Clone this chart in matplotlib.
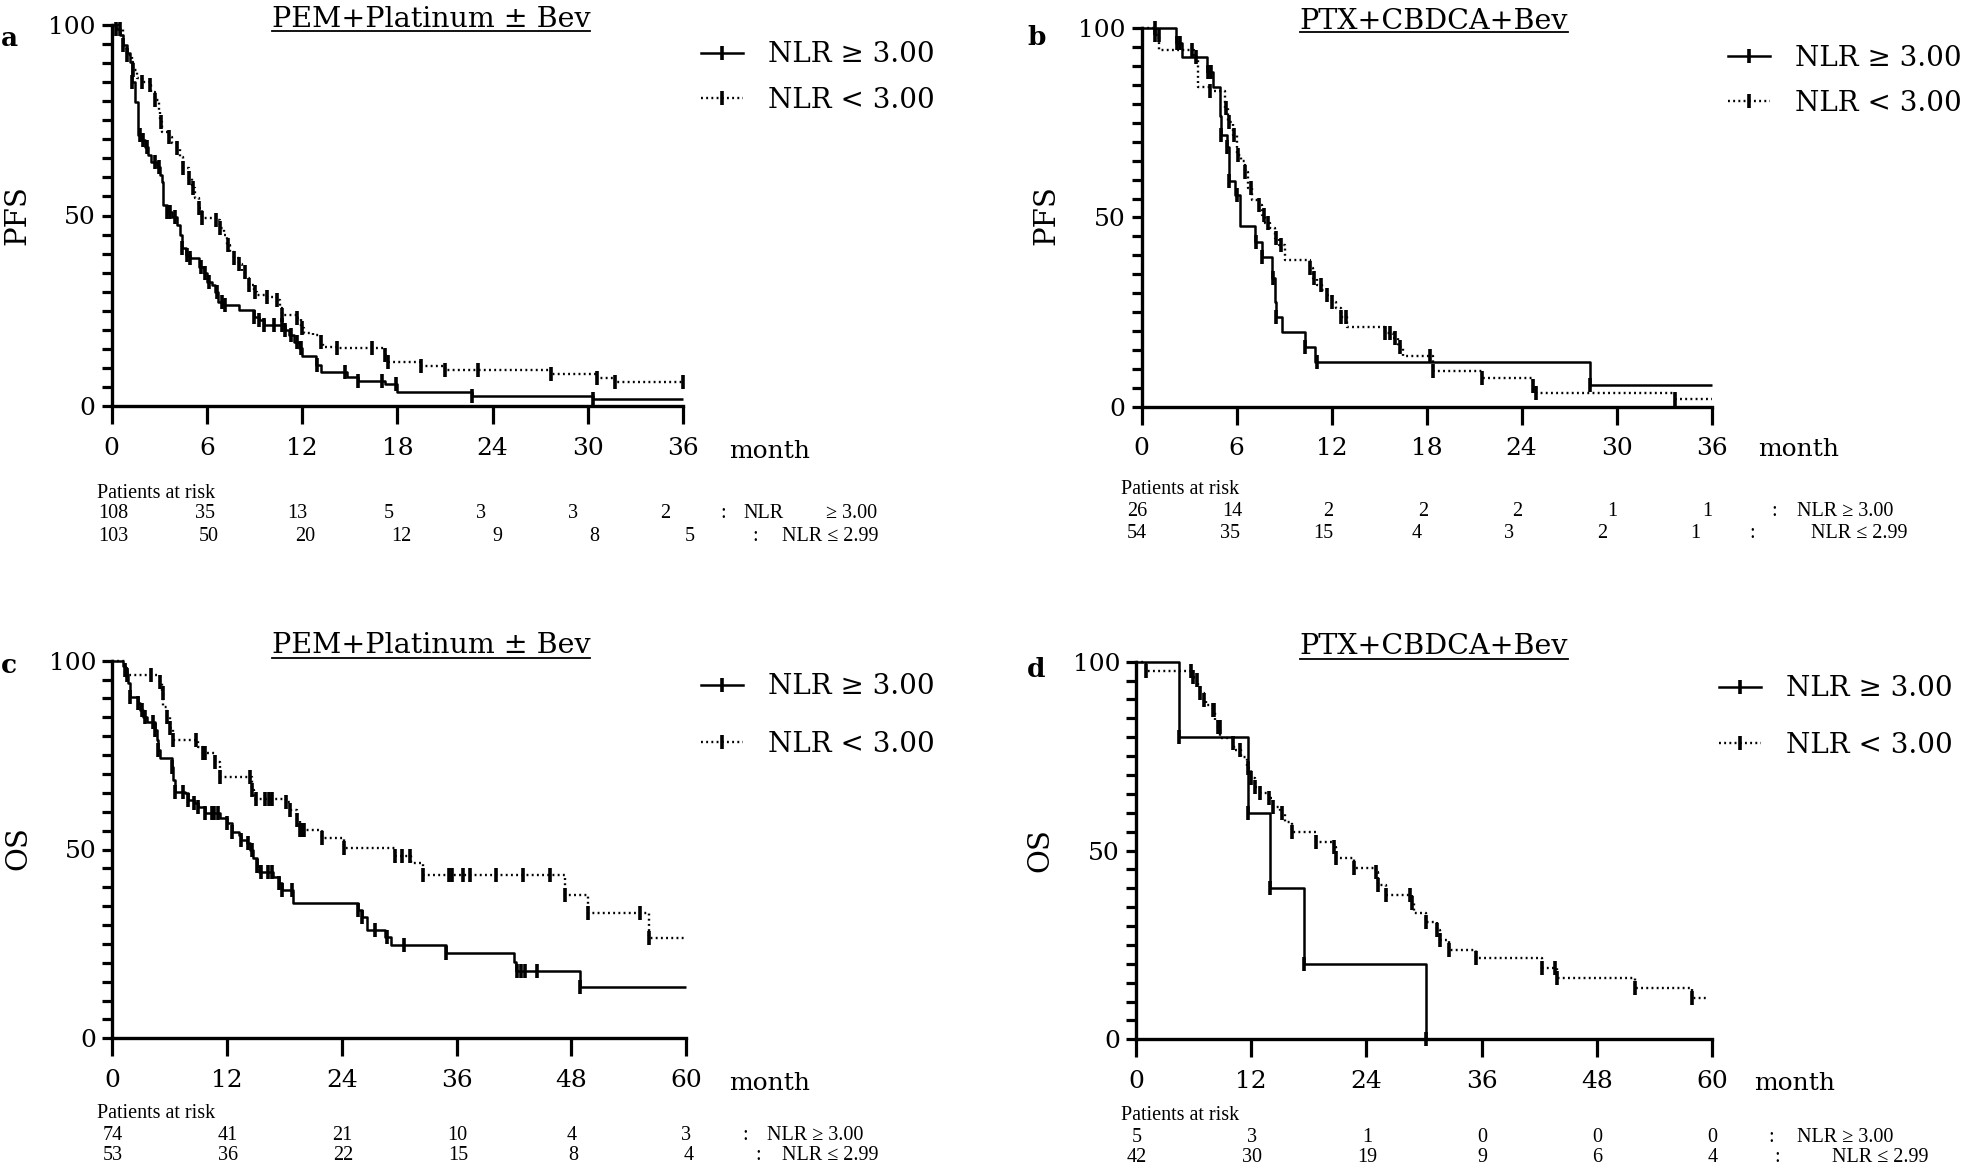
import matplotlib
matplotlib.use("Agg")
import matplotlib.pyplot as plt
import matplotlib.transforms as mtransforms
from matplotlib.lines import Line2D
import numpy as np

# ------------------------------------------------------------------ data
# Panel a : PFS, PEM+Platinum ± Bev
a_hi_t = [0.3, 0.5, 0.74, 0.95, 1.16, 1.26, 1.47, 1.68, 1.89, 2.1, 2.3, 2.5, 2.84, 3.05, 3.16, 3.26, 3.47,
          3.79, 4.1, 4.3, 4.4, 4.7, 4.95, 5.47, 5.8, 6.0, 6.3, 6.5, 6.7, 7.05, 8.0, 8.95, 9.26, 9.58, 10.9,
          11.2, 11.5, 11.8, 12.0, 12.9, 13.2, 14.8, 15.5, 17.2, 18.0, 22.7, 30.3]
a_hi_s = [99, 97.4, 94.7, 92.6, 90.4, 85.1, 79.9, 71.1, 69.8, 68.1, 65.9, 64.1, 62.8, 60.6, 58.9, 52.8, 51.0,
          49.7, 47.5, 44.9, 41.4, 39.6, 38.8, 36.6, 34.8, 32.6, 31.8, 30.0, 27.4, 26.5, 25.2, 23.4, 22.6, 21.3,
          19.9, 18.6, 16.9, 15.1, 13.2, 10.8, 8.8, 7.7, 6.6, 5.7, 3.75, 2.7, 1.8]
a_hi_end = 36
a_hi_cens = [0.3, 0.74, 1.26, 1.79, 2.0, 2.2, 2.74, 2.95, 3.5, 3.7, 4.0, 4.42, 4.74, 4.95, 5.6, 5.9, 6.1, 6.63,
             6.95, 7.16, 8.95, 9.26, 9.58, 10.2, 10.7, 10.9, 11.3, 11.7, 11.9, 12.95, 14.7, 15.5, 17.05, 17.9,
             22.7, 30.3]
a_lo_t = [0.5, 0.74, 0.95, 1.26, 1.37, 1.58, 1.89, 2.4, 2.5, 2.7, 2.95, 3.05, 3.16, 3.58, 3.79, 4.1, 4.3, 4.5,
          4.84, 5.05, 5.26, 5.47, 5.68, 6.6, 6.84, 7.05, 7.26, 7.47, 7.68, 8.0, 8.2, 8.42, 8.63, 8.95, 9.16,
          9.8, 10.4, 10.6, 10.7, 11.7, 11.9, 12.1, 12.7, 13.2, 13.3, 14.2, 17.2, 17.4, 19.5, 21.0, 27.7, 30.6,
          31.7]
a_lo_s = [99, 93.9, 92, 90.4, 88.2, 86, 85.1, 84.3, 82.5, 80.3, 77.3, 74.6, 72, 70.7, 68.9, 67.6, 65.4, 62.4,
          59.8, 57.1, 54.5, 51.9, 49.3, 48.8, 46.6, 44.9, 42.3, 40.5, 38.8, 37.4, 35.3, 33.5, 31.8, 30.0, 29.1,
          28.7, 27.8, 25.6, 23.9, 23.0, 20.4, 19.1, 18.6, 16.9, 15.6, 15.1, 13.4, 11.5, 10.5, 9.45, 8.4, 7.3,
          6.2]
a_lo_end = 36
a_lo_cens = [0.5, 0.95, 1.37, 1.9, 2.4, 2.7, 3.1, 3.6, 4.1, 4.5, 4.85, 5.1, 5.5, 5.7, 6.6, 6.85, 7.3, 7.7, 8.0,
             8.4, 8.65, 9.0, 9.8, 10.4, 10.7, 11.7, 12.0, 13.2, 14.2, 16.4, 17.2, 17.4, 19.5, 21.0, 23.1, 27.7,
             30.6, 31.7, 36.0]
a_risk_times = [0, 6, 12, 18, 24, 30, 36]
a_risk_hi = [108, 35, 13, 5, 3, 3, 2]
a_risk_lo = [103, 50, 20, 12, 9, 8, 5]

# Panel b : PFS, PTX+CBDCA+Bev
b_hi_t = [2.17, 2.53, 4.15, 4.5, 4.95, 5.0, 5.37, 5.5, 5.9, 6.2, 7.16, 7.6, 8.2, 8.4, 8.5, 8.84, 10.3, 10.95, 28.3]
b_hi_s = [96.2, 92.3, 88.5, 84.6, 76.9, 71.8, 68.7, 59.7, 56.0, 47.8, 43.6, 39.6, 33.9, 27.8, 23.8, 19.8, 15.9,
          11.9, 5.7]
b_hi_end = 36
b_hi_cens = [0.84, 2.2, 2.4, 4.2, 4.4, 5.0, 5.4, 5.5, 6.0, 7.2, 7.6, 8.3, 8.5, 10.3, 11.05, 28.3]
b_lo_t = [0.84, 1.12, 3.3, 3.58, 4.3, 5.26, 5.47, 5.79, 6.0, 6.3, 6.5, 6.7, 6.95, 7.4, 7.6, 7.8, 8.1, 8.4, 8.7,
          9.05, 10.6, 10.8, 11.05, 11.4, 11.7, 12.0, 12.3, 12.6, 12.95, 15.4, 15.9, 16.2, 16.5, 18.4, 21.5,
          24.7, 24.9, 33.7]
b_lo_s = [98.1, 94.3, 92.5, 84.6, 83.3, 78.9, 75.3, 71.8, 66.5, 64.8, 62.1, 57.7, 54.6, 53.3, 50.7, 48.5, 47.1,
          44.5, 42.7, 38.8, 36.6, 33.9, 32.2, 30.8, 29.5, 27.8, 26.0, 23.8, 21.1, 19.4, 18.1, 15.9, 13.5, 9.5,
          7.5, 5.6, 3.7, 1.95]
b_lo_end = 36
b_lo_cens = [0.84, 1.1, 3.16, 3.4, 4.3, 5.3, 5.5, 5.8, 6.1, 6.5, 6.9, 7.4, 7.7, 8.0, 8.5, 8.8, 10.6, 10.9, 11.3,
             11.7, 12.0, 12.6, 12.9, 15.4, 15.7, 16.0, 16.3, 18.2, 18.4, 21.5, 24.7, 24.9, 33.7]
b_risk_times = [0, 6, 12, 18, 24, 30, 36]
b_risk_hi = [26, 14, 2, 2, 2, 1, 1]
b_risk_lo = [54, 35, 15, 4, 3, 2, 1]

# Panel c : OS, PEM+Platinum ± Bev
c_hi_t = [1.15, 1.33, 1.5, 1.67, 1.85, 2.72, 2.9, 3.24, 3.6, 4.46, 4.64, 4.8, 5.0, 6.2, 6.4, 6.56, 7.6, 7.95, 8.5,
          9.0, 9.7, 11.3, 12.0, 12.5, 13.2, 13.5, 14.1, 14.4, 14.75, 15.1, 15.3, 16.85, 17.4, 17.7, 18.9, 25.7,
          26.1, 26.6, 28.5, 29.1, 34.9, 42.0, 42.2, 48.9]
c_hi_s = [98.6, 97.6, 95.9, 94.0, 90.5, 88.7, 86.9, 85.2, 83.8, 81.6, 79.0, 76.3, 74.1, 71.9, 68.4, 65.3, 64.9,
          63.1, 62.2, 61.3, 59.6, 58.3, 56.9, 54.7, 53.8, 52.5, 51.6, 49.9, 47.7, 45.5, 44.1, 42.8, 41.0, 39.3,
          35.7, 34.0, 32.2, 28.7, 26.9, 24.7, 22.5, 20.3, 17.9, 13.5]
c_hi_end = 60
c_hi_cens = [1.33, 1.85, 2.72, 3.07, 3.42, 4.29, 4.46, 4.8, 6.2, 6.56, 7.4, 7.95, 8.5, 9.0, 9.7, 10.4, 10.6, 11.1,
             12.0, 12.5, 13.5, 14.2, 14.6, 15.1, 15.5, 16.3, 16.7, 17.4, 17.7, 18.8, 25.7, 26.1, 27.5, 28.7,
             30.5, 34.9, 42.3, 42.7, 43.2, 44.4, 48.9]
c_lo_t = [1.3, 1.5, 5.0, 5.2, 5.35, 5.7, 6.0, 6.4, 9.0, 9.5, 10.75, 11.3, 14.6, 14.8, 18.2, 18.6, 19.3, 19.6,
          21.9, 24.2, 29.6, 31.2, 32.5, 47.3, 49.8, 56.1]
c_lo_s = [98.1, 96.2, 94.4, 91.4, 87.8, 85.2, 82.1, 79.0, 77.2, 75.5, 73.3, 69.3, 65.8, 63.5, 62.7, 60.5, 57.8,
          55.2, 53.0, 50.3, 48.3, 46.5, 43.3, 38.0, 33.3, 26.6]
c_lo_end = 60
c_lo_cens = [1.5, 4.05, 5.0, 5.3, 5.7, 6.0, 6.4, 8.8, 9.5, 9.7, 10.75, 11.3, 14.4, 14.6, 15.0, 16.0, 16.4, 16.7,
             18.2, 18.6, 19.3, 19.6, 19.8, 20.0, 21.9, 24.2, 29.6, 30.3, 31.1, 32.5, 35.2, 35.5, 36.7, 37.4,
             40.1, 43.0, 45.8, 47.3, 49.8, 55.2, 56.1]
c_risk_times = [0, 12, 24, 36, 48, 60]
c_risk_hi = [74, 41, 21, 10, 4, 3]
c_risk_lo = [53, 36, 22, 15, 8, 4]

# Panel d : OS, PTX+CBDCA+Bev
d_hi_t = [4.5, 11.65, 14.0, 17.5, 30.2]
d_hi_s = [80, 60, 40, 20, 0]
d_hi_end = 30.2
d_hi_cens = [4.5, 11.65, 14.0, 17.5, 30.2]
d_lo_t = [1.0, 5.8, 6.0, 6.5, 6.7, 7.1, 7.3, 8.0, 8.2, 8.5, 8.8, 10.1, 10.25, 10.9, 11.6, 12.0, 12.35, 12.9, 13.9,
          14.3, 15.0, 15.5, 16.2, 18.7, 20.6, 20.8, 22.7, 25.0, 25.2, 26.0, 28.8, 29.0, 30.2, 31.4, 31.7, 32.6,
          35.4, 42.3, 43.9, 52.0, 57.9]
d_lo_s = [97.6, 96.0, 95.1, 93.4, 91.6, 89.8, 88.5, 87.2, 84.6, 82.8, 79.7, 78.4, 76.6, 74.8, 71.8, 69.1, 66.9,
          65.1, 63.8, 61.6, 59.9, 57.5, 55.0, 52.3, 51.0, 47.9, 45.3, 44.4, 40.9, 38.2, 36.0, 33.4, 31.1, 28.9,
          26.3, 23.6, 21.4, 18.8, 16.2, 13.5, 10.9]
d_lo_end = 59.6
d_lo_cens = [1.0, 5.7, 5.9, 6.4, 6.7, 7.1, 8.0, 8.1, 8.5, 8.7, 10.1, 10.8, 11.65, 12.0, 12.35, 12.9, 13.9, 14.3,
             15.2, 16.2, 18.7, 20.6, 20.8, 22.7, 25.0, 25.2, 26.0, 28.5, 28.8, 30.2, 31.4, 31.7, 32.6, 35.4,
             42.3, 43.6, 43.9, 52.0, 57.9]
d_risk_times = [0, 12, 24, 36, 48, 60]
d_risk_hi = [5, 3, 1, 0, 0, 0]
d_risk_lo = [42, 30, 19, 9, 6, 4]

titles = ["PEM+Platinum \u00b1 Bev", "PTX+CBDCA+Bev", "PEM+Platinum \u00b1 Bev", "PTX+CBDCA+Bev"]
ylabels = ["PFS", "PFS", "OS", "OS"]
letters = ["a", "b", "c", "d"]
legend_labels = ["NLR \u2265 3.00", "NLR < 3.00"]

# ------------------------------------------------------------------ layout
W, H = 1961, 1170
plt.rcParams['font.family'] = ['DejaVu Serif']
fig = plt.figure(figsize=(W / 100, H / 100), dpi=100)
RISKF = ['Liberation Serif', 'DejaVu Serif']
RFS = 14.5


def fx(px):
    return px / W


def fy(py):
    return 1 - py / H


SOLID = dict(color='k', lw=1.8, ls='-')
DOT = dict(color='k', lw=1.7, ls=(0, (0.8, 1.4)))
MK = dict(marker='|', ms=10, mew=2.6)


def step_at(times, surv, t):
    i = np.searchsorted(times, t, side='right')
    return 100.0 if i == 0 else surv[i - 1]


def draw_km(ax, times, surv, end, cens, style):
    xs = [0] + list(times) + [end]
    ys = [100] + list(surv) + [surv[-1]]
    ax.step(xs, ys, where='post', clip_on=False, solid_capstyle='butt', **style)
    cy = [step_at(times, surv, t) for t in cens]
    ax.plot(cens, cy, ls='none', color='k', clip_on=False, **MK)


panels = [
    dict(rect=(111.7, 683.0, 25.0, 406.0), xmax=36, xstep=6,
         hi=(a_hi_t, a_hi_s, a_hi_end, a_hi_cens), lo=(a_lo_t, a_lo_s, a_lo_end, a_lo_cens),
         rt=a_risk_times, rh=a_risk_hi, rl=a_risk_lo, rowk=((0.966, 0.1), (1.01, 0.08)),
         title=(431, 27, 31), letter=(1, 46), ylab=(17, 215), month=(729, 451),
         leg=(701, 41.5), legsp=0.65, risk_y=(493, 514, 537), risk_x=97,
         tail_hi=[(723, ":"), (764, "NLR"), (852, "\u2265 3.00")], tail_lo=[(755, ":"), (830, "NLR \u2264 2.99")]),
    dict(rect=(1141.7, 1711.6, 28.3, 406.7), xmax=36, xstep=6,
         hi=(b_hi_t, b_hi_s, b_hi_end, b_hi_cens), lo=(b_lo_t, b_lo_s, b_lo_end, b_lo_cens),
         rt=b_risk_times, rh=b_risk_hi, rl=b_risk_lo, rowk=((1.0, -0.25), (0.98, -0.3)),
         title=(1434, 29, 32), letter=(1027, 45), ylab=(1046, 215), month=(1758, 450),
         leg=(1728, 44.5), legsp=0.67, risk_y=(489, 511, 534), risk_x=1121,
         tail_hi=[(1774, ":"), (1845, "NLR \u2265 3.00")], tail_lo=[(1752, ":"), (1859, "NLR \u2264 2.99")]),
    dict(rect=(112.3, 686.0, 660.7, 1038.3), xmax=60, xstep=12,
         hi=(c_hi_t, c_hi_s, c_hi_end, c_hi_cens), lo=(c_lo_t, c_lo_s, c_lo_end, c_lo_cens),
         rt=c_risk_times, rh=c_risk_hi, rl=c_risk_lo, rowk=((1.0, 0.05), (1.004, 0.05)),
         title=(431, 653, 658), letter=(1, 673), ylab=(18, 848), month=(729, 1084),
         leg=(701, 673.5), legsp=1.08, risk_y=(1114, 1135, 1156), risk_x=97,
         tail_hi=[(745, ":"), (815, "NLR \u2265 3.00")], tail_lo=[(758, ":"), (830, "NLR \u2264 2.99")]),
    dict(rect=(1136.0, 1712.0, 661.7, 1039.3), xmax=60, xstep=12,
         hi=(d_hi_t, d_hi_s, d_hi_end, d_hi_cens), lo=(d_lo_t, d_lo_s, d_lo_end, d_lo_cens),
         rt=d_risk_times, rh=d_risk_hi, rl=d_risk_lo, rowk=((1.0, 0.05), (1.0, 0.05)),
         title=(1434, 654, 659), letter=(1027, 677), ylab=(1040, 850), month=(1754, 1083),
         leg=(1719, 675.5), legsp=1.06, risk_y=(1116, 1137, 1157), risk_x=1121,
         tail_hi=[(1771, ":"), (1845, "NLR \u2265 3.00")], tail_lo=[(1777, ":"), (1880, "NLR \u2264 2.99")]),
]

title_artists = []
for i, p in enumerate(panels):
    x0, x1, yt, yb = p['rect']
    ax = fig.add_axes([fx(x0), fy(yb), fx(x1 - x0), (yb - yt) / H])
    ax.patch.set_visible(False)
    ax.set_xlim(0, p['xmax'])
    ax.set_ylim(0, 100)
    for s in ['top', 'right']:
        ax.spines[s].set_visible(False)
    for s in ['left', 'bottom']:
        ax.spines[s].set_linewidth(2.4)
    ax.set_xticks(np.arange(0, p['xmax'] + 1, p['xstep']))
    ax.set_yticks([0, 50, 100])
    ax.set_yticks(np.arange(0, 101, 5), minor=True)
    ax.tick_params(axis='x', length=13, width=2.3, pad=9, labelsize=18)
    ax.tick_params(axis='y', which='both', length=7.5, width=2.3, pad=4, labelsize=18)
    ax.tick_params(axis='y', which='minor', labelleft=False)

    draw_km(ax, *p['hi'], SOLID)
    draw_km(ax, *p['lo'], DOT)

    # legend
    h1 = Line2D([0], [0], **MK, **SOLID)
    h2 = Line2D([0], [0], **MK, **DOT)
    lx, ly = p['leg']
    ax.legend([h1, h2], legend_labels, loc='upper left', bbox_to_anchor=(fx(lx), fy(ly)),
              bbox_transform=fig.transFigure, frameon=False, fontsize=20, handlelength=1.5,
              handletextpad=0.9, labelspacing=p['legsp'], borderpad=0, borderaxespad=0, numpoints=1)

    # texts
    tx, tb, tu = p['title']
    title_artists.append((fig.text(fx(tx), fy(tb), titles[i], ha='center', va='baseline', fontsize=20.5), tu))
    lx, lb = p['letter']
    fig.text(fx(lx), fy(lb), letters[i], ha='left', va='baseline', fontsize=19, fontweight='bold')
    yx, yy = p['ylab']
    fig.text(fx(yx), fy(yy), ylabels[i], ha='center', va='center', rotation=90, fontsize=21)
    mx, my = p['month']
    fig.text(fx(mx), fy(my), "month", ha='left', va='center', fontsize=18)

    # risk table
    trans = mtransforms.blended_transform_factory(ax.transData, fig.transFigure)
    ry0, ry1, ry2 = p['risk_y']
    fig.text(fx(p['risk_x']), fy(ry0), "Patients at risk", ha='left', va='center', fontsize=RFS,
             family=RISKF)
    (k1, b1), (k2, b2) = p['rowk']
    for t, n in zip(p['rt'], p['rh']):
        ax.text(t * k1 + b1, fy(ry1), str(n), transform=trans, ha='center', va='center', fontsize=RFS,
                family=RISKF, clip_on=False)
    for t, n in zip(p['rt'], p['rl']):
        ax.text(t * k2 + b2, fy(ry2), str(n), transform=trans, ha='center', va='center', fontsize=RFS,
                family=RISKF, clip_on=False)
    for (px, s) in p['tail_hi']:
        fig.text(fx(px), fy(ry1), s, ha='center', va='center', fontsize=RFS, family=RISKF)
    for (px, s) in p['tail_lo']:
        fig.text(fx(px), fy(ry2), s, ha='center', va='center', fontsize=RFS, family=RISKF)

# underline titles
fig.canvas.draw()
renderer = fig.canvas.get_renderer()
for t, uy in title_artists:
    bb = t.get_window_extent(renderer)
    fig.add_artist(Line2D([bb.x0 / W, bb.x1 / W], [fy(uy), fy(uy)], transform=fig.transFigure,
                          color='k', lw=1.3))

fig.savefig("out.png", dpi=100)
